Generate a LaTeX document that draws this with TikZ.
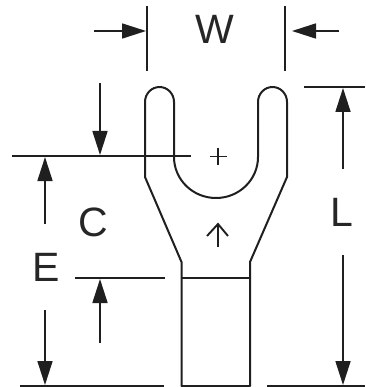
\documentclass[tikz,border=0pt]{standalone}
\usepackage{fontspec}
\setmainfont{Liberation Sans}
\usetikzlibrary{arrows.meta}
\tikzset{
  dimline/.style={line width=1.9pt,color=black!88},
  dimarrow/.style={line width=1.7pt,color=black!88,-{Triangle[length=24pt,width=15pt]},shorten >=0pt},
  outline/.style={line width=2pt,color=black!88,line join=round},
  lbl/.style={font=\fontsize{41}{41}\selectfont,text=black!85,inner sep=0pt,anchor=center}
}
\begin{document}
\begin{tikzpicture}[x=1pt,y=-1pt]
\useasboundingbox (0,0) rectangle (365,387);
% named end points
\coordinate (wL1) at (147,6); \coordinate (wL2) at (147,71);
\coordinate (wR1) at (285,6); \coordinate (wR2) at (285,71);
\coordinate (wAs) at (94,31); \coordinate (wAe) at (146,31);
\coordinate (wBs) at (339,31); \coordinate (wBe) at (292,31);
\coordinate (lT1) at (304,87); \coordinate (lT2) at (365,87);
\coordinate (lB1) at (267,386); \coordinate (lB2) at (365,386);
\coordinate (lAs) at (343,169); \coordinate (lAe) at (343,88);
\coordinate (lBs) at (343,255); \coordinate (lBe) at (343,385);
\coordinate (cT1) at (12,156); \coordinate (cT2) at (191,156);
\coordinate (cB1) at (75,278); \coordinate (cB2) at (165,278);
\coordinate (eB1) at (20,386); \coordinate (eB2) at (164,386);
\coordinate (cAs) at (100,83); \coordinate (cAe) at (100,155);
\coordinate (cBs) at (100,343); \coordinate (cBe) at (100,279);
\coordinate (eAs) at (45,224); \coordinate (eAe) at (45,157);
\coordinate (eBs) at (45,310); \coordinate (eBe) at (45,385);
\coordinate (neckL) at (181.5,278); \coordinate (neckR) at (250,278);
\coordinate (pv1) at (218,148); \coordinate (pv2) at (218,165);
\coordinate (ph1) at (210,156.5); \coordinate (ph2) at (227,156.5);
\coordinate (sAs) at (218,247); \coordinate (sAe) at (218,224);
% terminal outline
\draw[outline] (181.5,386) -- (181.5,262) -- (145,177) -- (145,102)
  arc[start angle=180,end angle=0,x radius=14.5,y radius=-15] -- (174,157)
  arc[start angle=180,end angle=360,x radius=42,y radius=-41] -- (258,102)
  arc[start angle=180,end angle=0,x radius=14.5,y radius=-15] -- (287,177)
  -- (250,262) -- (250,386) -- cycle;
\draw[outline] (neckL) -- (neckR);
% extension lines
\draw[dimline] (wL1) -- (wL2);
\draw[dimline] (wR1) -- (wR2);
\draw[dimline] (lT1) -- (lT2);
\draw[dimline] (lB1) -- (lB2);
\draw[dimline] (cT1) -- (cT2);
\draw[dimline] (cB1) -- (cB2);
\draw[dimline] (eB1) -- (eB2);
% dimension arrows
\draw[dimarrow] (wAs) -- (wAe);
\draw[dimarrow] (wBs) -- (wBe);
\draw[dimarrow] (lAs) -- (lAe);
\draw[dimarrow] (lBs) -- (lBe);
\draw[dimarrow] (cAs) -- (cAe);
\draw[dimarrow] (cBs) -- (cBe);
\draw[dimarrow] (eAs) -- (eAe);
\draw[dimarrow] (eBs) -- (eBe);
% centre mark and small arrow
\draw[dimline] (pv1) -- (pv2);
\draw[dimline] (ph1) -- (ph2);
\draw[dimline] (sAs) -- (sAe);
\draw[dimline] (207,236) -- (sAe) -- (228,236);
% labels
\node[lbl] (W) at (215,29) {W};
\node[lbl] (C) at (93,222) {C};
\node[lbl] (E) at (46,267) {E};
\node[lbl] (L) at (342,212) {L};
\end{tikzpicture}
\end{document}
